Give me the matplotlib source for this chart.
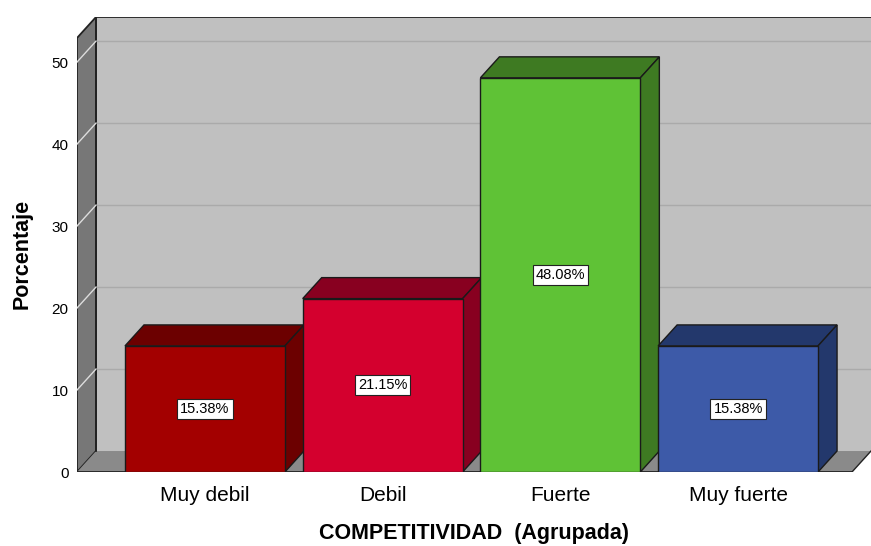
import matplotlib
matplotlib.use("Agg")
import matplotlib.pyplot as plt
from matplotlib.patches import Polygon

plt.rcParams['font.family'] = ['Liberation Sans', 'DejaVu Sans']

# datos
categorias = ['Muy debil', 'Debil', 'Fuerte', 'Muy fuerte']
porcentajes = [15.38, 21.15, 48.08, 15.38]
etiquetas = ['15.38%', '21.15%', '48.08%', '15.38%']
colores_frente = ['#a30000', '#d4002e', '#5fc236', '#3d5aa8']
colores_lado = ['#6c0000', '#880020', '#3e7a22', '#23386c']
yticks = [0, 10, 20, 30, 40, 50]

# geometria 3D (en unidades de datos)
ancho = 0.9
dx = 0.107
dy = 2.56
x0, x1 = -0.72, 3.748
ytop = 55.5

fig = plt.figure(figsize=(8.71, 5.46), dpi=100)
ax = fig.add_axes([77 / 871, 74 / 546, 794 / 871, 455 / 546])
ax.set_xlim(x0, x1)
ax.set_ylim(0, ytop)

# pared del fondo
ax.add_patch(Polygon([(x0 + dx, dy), (x1, dy), (x1, ytop), (x0 + dx, ytop)],
                     closed=True, facecolor='#c0c0c0', edgecolor='none', zorder=1))
for v in yticks[1:]:
    ax.plot([x0 + dx, x1], [v + dy, v + dy], color='#aaaaaa', lw=1, zorder=2)
ax.plot([x0 + dx, x1], [ytop, ytop], color='#222222', lw=1.3, zorder=3)
ax.plot([x0 + dx, x0 + dx], [dy, ytop], color='#222222', lw=1.3, zorder=3)

# pared izquierda
ax.add_patch(Polygon([(x0, 0), (x0 + dx, dy), (x0 + dx, ytop), (x0, ytop - dy)],
                     closed=True, facecolor='#777777', edgecolor='#222222', lw=1.3, zorder=2))
for v in yticks[1:]:
    ax.plot([x0, x0 + dx], [v, v + dy], color='#dddddd', lw=1, zorder=3)

# piso
ax.add_patch(Polygon([(x0, 0), (x1 - dx, 0), (x1, dy), (x0 + dx, dy)],
                     closed=True, facecolor='#8a8a8a', edgecolor='none', zorder=2))
ax.plot([x0, x1 - dx], [0, 0], color='#222222', lw=1.3, zorder=3)
ax.plot([x1 - dx, x1], [0, dy], color='#222222', lw=1.0, zorder=3)

# barras 3D
for i, (v, cf, cl) in enumerate(zip(porcentajes, colores_frente, colores_lado)):
    l, r = i - ancho / 2, i + ancho / 2
    borde = '#1a1a1a'
    ax.add_patch(Polygon([(l, v), (r, v), (r + dx, v + dy), (l + dx, v + dy)],
                         closed=True, facecolor=cl, edgecolor=borde, lw=1, zorder=5))
    ax.add_patch(Polygon([(r, 0), (r + dx, dy), (r + dx, v + dy), (r, v)],
                         closed=True, facecolor=cl, edgecolor=borde, lw=1, zorder=5))
    ax.add_patch(Polygon([(l, 0), (r, 0), (r, v), (l, v)],
                         closed=True, facecolor=cf, edgecolor=borde, lw=1, zorder=6))
    ax.text(i, v / 2, etiquetas[i], ha='center', va='center', fontsize=10.5, zorder=7,
            bbox=dict(boxstyle='square,pad=0.2', facecolor='white', edgecolor='#222222', lw=0.8))

for s in ax.spines.values():
    s.set_visible(False)
ax.set_yticks(yticks)
ax.set_yticklabels([str(t) for t in yticks], fontsize=11)
ax.set_xticks(range(len(categorias)))
ax.set_xticklabels(categorias, fontsize=15)
ax.tick_params(axis='y', length=0, pad=6)
ax.tick_params(axis='x', length=0, pad=10)
ax.set_ylabel('Porcentaje', fontsize=15.5, fontweight='bold')
ax.yaxis.set_label_coords(-0.056, 0.479)
ax.set_xlabel('COMPETITIVIDAD  (Agrupada)', fontsize=15.5, fontweight='bold', labelpad=13)

fig.savefig('out.png', dpi=100, facecolor='white')
